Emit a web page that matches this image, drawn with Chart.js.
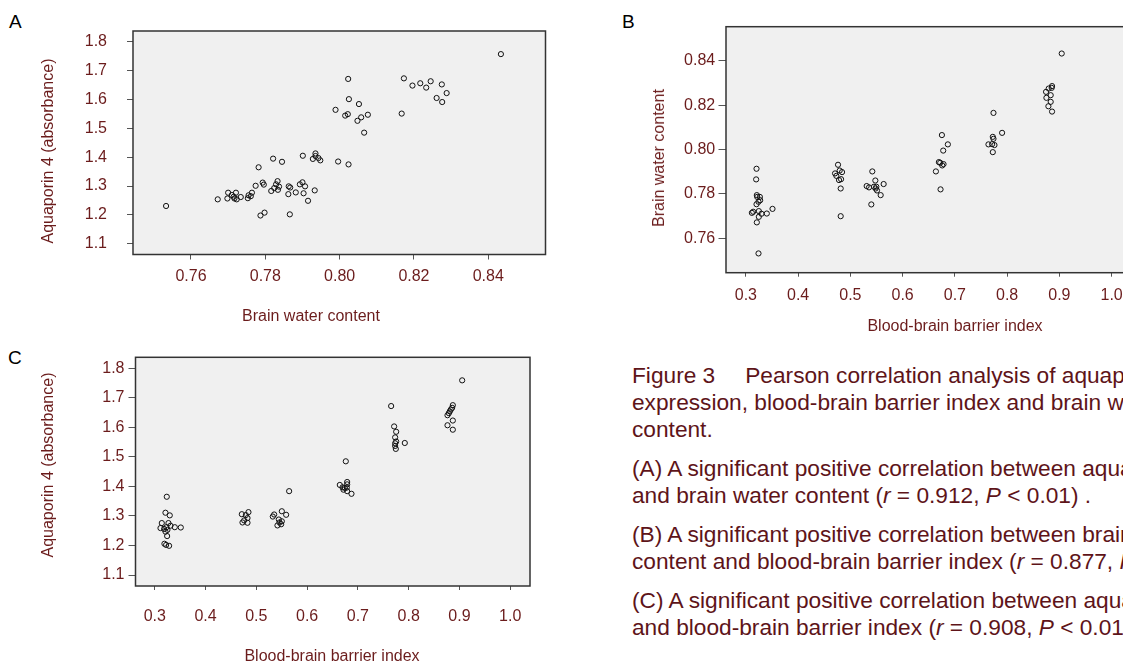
<!DOCTYPE html>
<html>
<head>
<meta charset="utf-8">
<script src="https://cdn.jsdelivr.net/npm/chart.js@4.4.0/dist/chart.umd.min.js"></script>
<style>
html, body { margin: 0; overflow: hidden; }
body { width: 1123px; height: 662px; position: relative; background: #fff; font-family: "Liberation Sans", Arial, sans-serif; }
canvas { position: absolute; }
.lbl { position: absolute; white-space: nowrap; line-height: 1; }
.panel { font-size: 19px; color: #000; }
.ttl { font-size: 16px; color: #6b1c1c; transform: translate(-50%, -50%); }
.ttl.rot { transform: translate(-50%, -50%) rotate(-90deg); }
#caption { position: absolute; left: 632px; top: 361.5px; font-size: 22.7px; line-height: 27px; color: #5e1419; white-space: nowrap; }
#caption p { margin: 0 0 12px 0; }
</style>
</head>
<body>

<div class="lbl panel" style="left:9px;top:12px">A</div>
<div class="lbl panel" style="left:622px;top:12px">B</div>
<div class="lbl panel" style="left:8px;top:348px">C</div>

<canvas id="chartA" width="570" height="340" style="left:0px;top:0px"></canvas>
<canvas id="chartB" width="570" height="340" style="left:580px;top:0px"></canvas>
<canvas id="chartC" width="570" height="322" style="left:0px;top:340px"></canvas>

<div class="lbl ttl rot" style="left:48px;top:151px">Aquaporin 4 (absorbance)</div>
<div class="lbl ttl" style="left:311px;top:316px">Brain water content</div>
<div class="lbl ttl rot" style="left:659px;top:158px">Brain water content</div>
<div class="lbl ttl" style="left:955px;top:326px">Blood-brain barrier index</div>
<div class="lbl ttl rot" style="left:48px;top:465px">Aquaporin 4 (absorbance)</div>
<div class="lbl ttl" style="left:332px;top:656px">Blood-brain barrier index</div>

<div id="caption">
  <p><span style="margin-right:30px">Figure 3</span>Pearson correlation analysis of aquaporin 4<br>expression, blood-brain barrier index and brain water<br>content.</p>
  <p>(A) A significant positive correlation between aquaporin 4<br>and brain water content (<i>r</i> = 0.912, <i>P</i> &lt; 0.01) .</p>
  <p>(B) A significant positive correlation between brain water<br>content and blood-brain barrier index (<i>r</i> = 0.877, <i>P</i> &lt; 0.01) .</p>
  <p>(C) A significant positive correlation between aquaporin 4<br>and blood-brain barrier index (<i>r</i> = 0.908, <i>P</i> &lt; 0.01) .</p>
</div>

<script>
// A: brain water content vs aquaporin 4
var waterA = [0.7533, 0.8434, 0.8023, 0.8173, 0.8196, 0.8217, 0.8233, 0.8245, 0.8275, 0.8288,
  0.8261, 0.8276, 0.8167, 0.8025, 0.8052, 0.7989, 0.8015, 0.8022, 0.8076, 0.8058,
  0.8048, 0.8066, 0.7935, 0.7935, 0.7928, 0.7943, 0.7948, 0.7901, 0.7821, 0.7845,
  0.7782, 0.7996, 0.8024, 0.7774, 0.7793, 0.7796, 0.7833, 0.7829, 0.7837, 0.7824,
  0.7834, 0.7816, 0.7863, 0.7867, 0.7893, 0.7900, 0.7907, 0.7862, 0.7882, 0.7903,
  0.7933, 0.7915, 0.7866, 0.7787, 0.7798, 0.7672, 0.7700, 0.7698, 0.7710, 0.7715,
  0.7721, 0.7723, 0.7734, 0.7753, 0.7755, 0.7764, 0.7761, 0.7717];
var aqpA = [1.231, 1.757, 1.671, 1.673, 1.648, 1.656, 1.641, 1.663, 1.652, 1.622,
  1.605, 1.591, 1.551, 1.601, 1.584, 1.564, 1.544, 1.549, 1.547, 1.538,
  1.526, 1.485, 1.413, 1.404, 1.394, 1.397, 1.389, 1.405, 1.395, 1.384,
  1.365, 1.385, 1.375, 1.301, 1.312, 1.305, 1.317, 1.306, 1.298, 1.293,
  1.287, 1.283, 1.299, 1.295, 1.306, 1.313, 1.299, 1.272, 1.278, 1.275,
  1.285, 1.249, 1.202, 1.198, 1.208, 1.254, 1.277, 1.257, 1.269, 1.263,
  1.277, 1.254, 1.262, 1.258, 1.268, 1.277, 1.265, 1.257];

// B: blood-brain barrier index vs brain water content
var bbbB = [0.9045, 0.8860, 0.8853, 0.8796, 0.8745, 0.8834, 0.8752, 0.8834, 0.8790, 0.8860,
  0.7739, 0.7904, 0.7726, 0.7739, 0.7643, 0.7713, 0.7758, 0.7726,
  0.6752, 0.6866, 0.6777, 0.6694, 0.6720, 0.6783, 0.6758, 0.6637, 0.6726,
  0.4764, 0.4707, 0.4796, 0.4841, 0.4732, 0.4783, 0.4822, 0.4815, 0.4815,
  0.5420, 0.5478, 0.5312, 0.5357, 0.5452, 0.5497, 0.5484, 0.5510, 0.5637, 0.5580, 0.5401,
  0.3204, 0.3197, 0.3210, 0.3217, 0.3268, 0.3274, 0.3242, 0.3204, 0.3115, 0.3140,
  0.3248, 0.3299, 0.3401, 0.3510, 0.3248, 0.3210, 0.3242];
var waterB = [0.8433, 0.8286, 0.8278, 0.8275, 0.8260, 0.8245, 0.8233, 0.8215, 0.8195, 0.8171,
  0.8165, 0.8075, 0.8057, 0.8048, 0.8023, 0.8024, 0.8020, 0.7988,
  0.8065, 0.8023, 0.7995, 0.7943, 0.7940, 0.7934, 0.7928, 0.7901, 0.7820,
  0.7931, 0.7892, 0.7905, 0.7898, 0.7881, 0.7862, 0.7866, 0.7824, 0.7699,
  0.7901, 0.7860, 0.7835, 0.7829, 0.7832, 0.7832, 0.7824, 0.7815, 0.7844, 0.7794, 0.7752,
  0.7913, 0.7865, 0.7794, 0.7786, 0.7786, 0.7771, 0.7764, 0.7753, 0.7714, 0.7719,
  0.7722, 0.7710, 0.7711, 0.7732, 0.7696, 0.7671, 0.7531];

// C: blood-brain barrier index vs aquaporin 4
var bbbC = [0.9054, 0.7655, 0.8870, 0.8857, 0.8830, 0.8811, 0.8792, 0.8765, 0.8870, 0.8765, 0.8870,
  0.7714, 0.7754, 0.7734, 0.7754, 0.7734, 0.7734, 0.7747, 0.7924,
  0.6762, 0.6789, 0.6789, 0.6644, 0.6697, 0.6743, 0.6782, 0.6716, 0.6789, 0.6874,
  0.5646, 0.5502, 0.5351, 0.5587, 0.5324, 0.5443, 0.5502, 0.5456, 0.5489, 0.5416,
  0.4714, 0.4845, 0.4793, 0.4826, 0.4760, 0.4727, 0.4826,
  0.3236, 0.3210, 0.3295, 0.3138, 0.3269, 0.3112, 0.3184, 0.3230, 0.3249, 0.3210,
  0.3309, 0.3394, 0.3512, 0.3243, 0.3190, 0.3223, 0.3282];
var aqpC = [1.759, 1.672, 1.675, 1.666, 1.660, 1.654, 1.648, 1.641, 1.623, 1.607, 1.592,
  1.603, 1.585, 1.566, 1.552, 1.546, 1.537, 1.527, 1.547,
  1.485, 1.415, 1.407, 1.405, 1.397, 1.395, 1.396, 1.389, 1.384, 1.375,
  1.384, 1.316, 1.305, 1.304, 1.298, 1.288, 1.282, 1.278, 1.272, 1.268,
  1.306, 1.313, 1.303, 1.293, 1.285, 1.278, 1.277,
  1.365, 1.311, 1.302, 1.276, 1.276, 1.259, 1.256, 1.262, 1.253, 1.247,
  1.267, 1.262, 1.261, 1.232, 1.206, 1.202, 1.199];

var waterTicks = [0.76, 0.78, 0.80, 0.82, 0.84];
var aqpTicks = [1.1, 1.2, 1.3, 1.4, 1.5, 1.6, 1.7, 1.8];
var bbbTicks = [0.3, 0.4, 0.5, 0.6, 0.7, 0.8, 0.9, 1.0];

var tickColor = '#6b1c1c';
var fontFam = '"Liberation Sans", Arial, sans-serif';

function toPoints(xs, ys) {
  return xs.map(function (x, i) { return { x: x, y: ys[i] }; });
}

// grey plot area with a dark frame, like the SPSS output
var plotBox = {
  id: 'plotBox',
  beforeDraw: function (chart) {
    var a = chart.chartArea, ctx = chart.ctx;
    ctx.save();
    ctx.fillStyle = '#f0f0f0';
    ctx.fillRect(a.left, a.top, a.right - a.left, a.bottom - a.top);
    ctx.restore();
  },
  afterDraw: function (chart) {
    var a = chart.chartArea, ctx = chart.ctx;
    ctx.save();
    ctx.strokeStyle = '#333';
    ctx.lineWidth = 1.5;
    ctx.strokeRect(a.left, a.top, a.right - a.left, a.bottom - a.top);
    ctx.restore();
  }
};

function axis(ticks, min, max, digits, size, tickLen, pad) {
  return {
    type: 'linear',
    min: min,
    max: max,
    afterBuildTicks: function (s) { s.ticks = ticks.map(function (v) { return { value: v }; }); },
    afterFit: function (s) { if (s.isHorizontal()) s.height = size; else s.width = size; },
    grid: { drawOnChartArea: false, tickLength: tickLen, color: '#555' },
    border: { display: false },
    ticks: {
      padding: pad,
      color: tickColor,
      font: { family: fontFam, size: 16 },
      callback: function (v) { return Number(v).toFixed(digits); }
    }
  };
}

function makeChart(id, xs, ys, xAxis, yAxis, pad) {
  return new Chart(document.getElementById(id), {
    type: 'scatter',
    data: {
      datasets: [{
        data: toPoints(xs, ys),
        pointRadius: 2.6,
        pointBorderWidth: 1,
        pointBorderColor: '#111',
        pointBackgroundColor: 'rgba(0,0,0,0)'
      }]
    },
    options: {
      responsive: false,
      animation: false,
      layout: { padding: pad },
      plugins: { legend: { display: false }, tooltip: { enabled: false } },
      scales: { x: xAxis, y: yAxis }
    },
    plugins: [plotBox]
  });
}

makeChart('chartA', waterA, aqpA,
  axis(waterTicks, 0.7444, 0.8554, 2, 85.5, 5, 7.6),
  axis(aqpTicks, 1.063, 1.837, 1, 133, 6, 20),
  { top: 31, right: 24.5, left: 0, bottom: 0 });

makeChart('chartB', bbbB, waterB,
  axis(bbbTicks, 0.262, 1.039, 1, 67.3, 4, 9.7),
  axis(waterTicks, 0.7444, 0.8554, 2, 146, 7.5, 3.3),
  { top: 26.7, right: 18, left: 0, bottom: 0 });

makeChart('chartC', bbbC, aqpC,
  axis(bbbTicks, 0.262, 1.039, 1, 76, 4, 17),
  axis(aqpTicks, 1.063, 1.837, 1, 135.5, 7, 4),
  { top: 17.3, right: 40, left: 0, bottom: 0 });
</script>
</body>
</html>
